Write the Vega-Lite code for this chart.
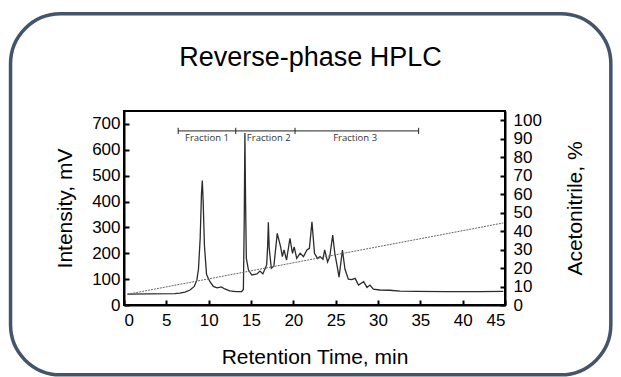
{
  "$schema": "https://vega.github.io/schema/vega-lite/v6.json",
  "width": 381,
  "height": 194,
  "autosize": {"type": "none"},
  "padding": {"left": 124, "top": 111, "right": 116, "bottom": 72},
  "background": "white",
  "title": {"text": "Reverse-phase HPLC", "fontSize": 27, "font": "Liberation Sans", "fontWeight": "normal", "color": "black", "anchor": "middle", "baseline": "alphabetic", "offset": -81, "dx": -4},
  "config": {
    "font": "Liberation Sans",
    "view": {"stroke": "black", "strokeWidth": 2},
    "axis": {"domainColor": "black", "domainWidth": 2, "tickColor": "black", "tickWidth": 2, "tickSize": -5, "labelFontSize": 17, "labelColor": "black", "titleFontSize": 21, "titleFontWeight": "normal", "titleColor": "black", "grid": false, "labelFont": "Liberation Sans", "titleFont": "Liberation Sans"}
  },
  "datasets": {
    "chrom": [
      {"t": 0.4, "mV": 42}, {"t": 3.0, "mV": 43}, {"t": 6.0, "mV": 44}, {"t": 6.6, "mV": 46},
      {"t": 7.2, "mV": 50}, {"t": 7.8, "mV": 58}, {"t": 8.3, "mV": 72}, {"t": 8.6, "mV": 95},
      {"t": 8.8, "mV": 140}, {"t": 9.0, "mV": 260}, {"t": 9.15, "mV": 430}, {"t": 9.25, "mV": 481},
      {"t": 9.35, "mV": 400}, {"t": 9.5, "mV": 230}, {"t": 9.75, "mV": 118}, {"t": 10.15, "mV": 90},
      {"t": 10.55, "mV": 72}, {"t": 11.0, "mV": 66}, {"t": 11.5, "mV": 70}, {"t": 11.9, "mV": 62},
      {"t": 12.5, "mV": 55}, {"t": 13.2, "mV": 52}, {"t": 13.9, "mV": 52}, {"t": 14.1, "mV": 60},
      {"t": 14.2, "mV": 320}, {"t": 14.28, "mV": 665}, {"t": 14.36, "mV": 400}, {"t": 14.45, "mV": 180},
      {"t": 14.7, "mV": 135}, {"t": 15.1, "mV": 116}, {"t": 15.7, "mV": 120}, {"t": 16.06, "mV": 131},
      {"t": 16.4, "mV": 120}, {"t": 16.85, "mV": 155}, {"t": 16.97, "mV": 230}, {"t": 17.05, "mV": 320},
      {"t": 17.15, "mV": 220}, {"t": 17.4, "mV": 142}, {"t": 17.7, "mV": 150}, {"t": 18.1, "mV": 277},
      {"t": 18.5, "mV": 225}, {"t": 18.7, "mV": 187}, {"t": 18.9, "mV": 213}, {"t": 19.2, "mV": 174},
      {"t": 19.6, "mV": 258}, {"t": 19.9, "mV": 200}, {"t": 20.1, "mV": 225}, {"t": 20.4, "mV": 180},
      {"t": 20.8, "mV": 200}, {"t": 21.2, "mV": 187}, {"t": 21.6, "mV": 213}, {"t": 21.9, "mV": 219},
      {"t": 22.2, "mV": 322}, {"t": 22.5, "mV": 200}, {"t": 22.85, "mV": 180}, {"t": 23.15, "mV": 187},
      {"t": 23.5, "mV": 177}, {"t": 23.7, "mV": 213}, {"t": 24.05, "mV": 167}, {"t": 24.3, "mV": 187},
      {"t": 24.65, "mV": 270}, {"t": 24.9, "mV": 200}, {"t": 25.15, "mV": 155}, {"t": 25.4, "mV": 108},
      {"t": 25.8, "mV": 212}, {"t": 26.1, "mV": 138}, {"t": 26.5, "mV": 100}, {"t": 26.9, "mV": 98},
      {"t": 27.3, "mV": 103}, {"t": 27.7, "mV": 77}, {"t": 28.3, "mV": 90}, {"t": 28.7, "mV": 68},
      {"t": 29.05, "mV": 77}, {"t": 29.45, "mV": 61}, {"t": 30.2, "mV": 58}, {"t": 31.4, "mV": 57},
      {"t": 32.6, "mV": 54}, {"t": 34.6, "mV": 53}, {"t": 38.0, "mV": 52}, {"t": 42.0, "mV": 52},
      {"t": 44.8, "mV": 53}
    ],
    "gradient": [
      {"t": 0.4, "acn": 5.8},
      {"t": 44.8, "acn": 44.4}
    ],
    "fractions": [
      {"name": "Fraction 1", "start": 6.4, "end": 13.2, "mid": 9.8},
      {"name": "Fraction 2", "start": 13.2, "end": 20.2, "mid": 17.1},
      {"name": "Fraction 3", "start": 20.2, "end": 34.8, "mid": 27.3}
    ],
    "cuts": [{"t": 6.4}, {"t": 13.2}, {"t": 20.2}, {"t": 34.8}],
    "frame": [{"x1": -13.4, "x2": 57.5, "y1": 1126, "y2": -270}]
  },
  "layer": [
    {
      "layer": [
        {
          "data": {"name": "frame"},
          "mark": {"type": "rect", "fill": "transparent", "stroke": "#44546a", "strokeWidth": 3.5, "cornerRadius": 50, "clip": false},
          "encoding": {
            "x": {"field": "x1", "type": "quantitative", "scale": {"domain": [0, 45], "nice": false, "zero": false},
                  "axis": {"title": "Retention Time, min", "values": [0, 5, 10, 15, 20, 25, 30, 35, 40, 45], "labelPadding": 12, "titlePadding": 18}},
            "x2": {"field": "x2"},
            "y": {"field": "y1", "type": "quantitative", "scale": {"domain": [0, 750], "nice": false, "zero": false},
                  "axis": {"title": "Intensity, mV", "orient": "left", "values": [0, 100, 200, 300, 400, 500, 600, 700], "labelPadding": 9, "titlePadding": 16}},
            "y2": {"field": "y2"}
          }
        },
        {
          "data": {"name": "fractions"},
          "mark": {"type": "rule", "color": "#222", "strokeWidth": 1},
          "encoding": {
            "x": {"field": "start", "type": "quantitative", "scale": {"domain": [0, 45], "nice": false, "zero": false},
                  "axis": {"title": "Retention Time, min", "values": [0, 5, 10, 15, 20, 25, 30, 35, 40, 45], "labelPadding": 12, "titlePadding": 18}},
            "x2": {"field": "end"},
            "y": {"datum": 673, "type": "quantitative", "scale": {"domain": [0, 750], "nice": false, "zero": false},
                  "axis": {"title": "Intensity, mV", "orient": "left", "values": [0, 100, 200, 300, 400, 500, 600, 700], "labelPadding": 9, "titlePadding": 16}}
          }
        },
        {
          "data": {"name": "cuts"},
          "mark": {"type": "rule", "color": "#222", "strokeWidth": 1},
          "encoding": {
            "x": {"field": "t", "type": "quantitative", "scale": {"domain": [0, 45], "nice": false, "zero": false},
                  "axis": {"title": "Retention Time, min", "values": [0, 5, 10, 15, 20, 25, 30, 35, 40, 45], "labelPadding": 12, "titlePadding": 18}},
            "y": {"datum": 661, "type": "quantitative", "scale": {"domain": [0, 750], "nice": false, "zero": false},
                  "axis": {"title": "Intensity, mV", "orient": "left", "values": [0, 100, 200, 300, 400, 500, 600, 700], "labelPadding": 9, "titlePadding": 16}},
            "y2": {"datum": 685}
          }
        },
        {
          "data": {"name": "fractions"},
          "mark": {"type": "text", "fontSize": 9.5, "color": "#333", "font": "Open Sans", "baseline": "middle"},
          "encoding": {
            "x": {"field": "mid", "type": "quantitative", "scale": {"domain": [0, 45], "nice": false, "zero": false},
                  "axis": {"title": "Retention Time, min", "values": [0, 5, 10, 15, 20, 25, 30, 35, 40, 45], "labelPadding": 12, "titlePadding": 18}},
            "y": {"datum": 646, "type": "quantitative", "scale": {"domain": [0, 750], "nice": false, "zero": false},
                  "axis": {"title": "Intensity, mV", "orient": "left", "values": [0, 100, 200, 300, 400, 500, 600, 700], "labelPadding": 9, "titlePadding": 16}},
            "text": {"field": "name"}
          }
        },
        {
          "data": {"name": "chrom"},
          "mark": {"type": "line", "color": "#2b2b2b", "strokeWidth": 1.3},
          "encoding": {
            "x": {"field": "t", "type": "quantitative", "scale": {"domain": [0, 45], "nice": false, "zero": false},
                  "axis": {"title": "Retention Time, min", "values": [0, 5, 10, 15, 20, 25, 30, 35, 40, 45], "labelPadding": 12, "titlePadding": 18}},
            "y": {"field": "mV", "type": "quantitative", "scale": {"domain": [0, 750], "nice": false, "zero": false},
                  "axis": {"title": "Intensity, mV", "orient": "left", "values": [0, 100, 200, 300, 400, 500, 600, 700], "labelPadding": 9, "titlePadding": 16}}
          }
        }
      ]
    },
    {
      "data": {"name": "gradient"},
      "mark": {"type": "line", "color": "#666", "strokeWidth": 1, "strokeDash": [2, 1]},
      "encoding": {
        "x": {"field": "t", "type": "quantitative", "scale": {"domain": [0, 45], "nice": false, "zero": false},
              "axis": {"title": "Retention Time, min", "values": [0, 5, 10, 15, 20, 25, 30, 35, 40, 45], "labelPadding": 12, "titlePadding": 18}},
        "y": {"field": "acn", "type": "quantitative", "scale": {"domain": [0, 105], "nice": false, "zero": false},
              "axis": {"title": "Acetonitrile, %", "orient": "right", "titleAngle": 270, "titleBaseline": "top", "values": [0, 10, 20, 30, 40, 50, 60, 70, 80, 90, 100], "labelPadding": 13, "titlePadding": 23}}
      }
    }
  ],
  "resolve": {"scale": {"y": "independent"}}
}
